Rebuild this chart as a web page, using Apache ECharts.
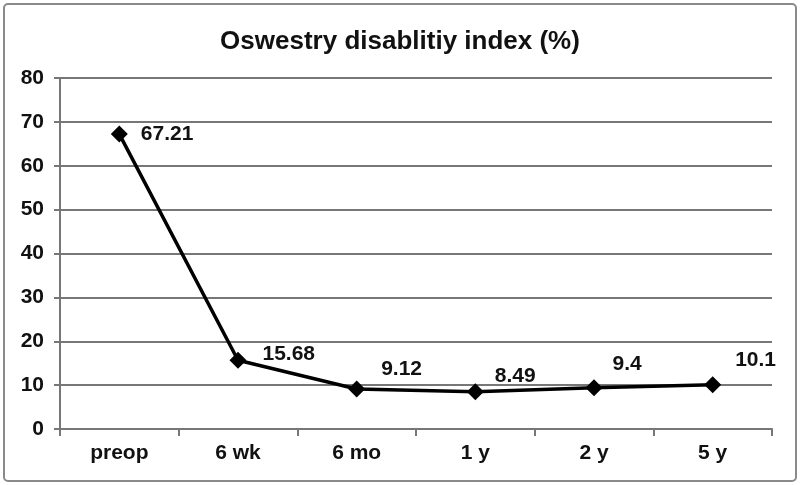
<!DOCTYPE html>
<html><head><meta charset="utf-8">
<script src="https://cdn.jsdelivr.net/npm/echarts@6/dist/echarts.min.js"></script>
<style>html,body{margin:0;padding:0;background:#fff}#c{width:800px;height:485px}</style>
</head><body><div id="c"></div>
<script>
const categories = ['preop','6 wk','6 mo','1 y','2 y','5 y'];
const odiValues = [67.21, 15.68, 9.12, 8.49, 9.4, 10.1];
const yTicks = [0,10,20,30,40,50,60,70,80];
const labelOffsets = [[7,0],[10,-6],[10,-20],[5,-16],[4,-24],[8,-24]];

const chart = echarts.init(document.getElementById('c'), null, {renderer:'canvas'});
const font = 'Liberation Sans, Arial, sans-serif';
chart.setOption({
  animation:false,
  backgroundColor:'#fff',
  graphic:[{type:'rect', shape:{x:4,y:4,width:792,height:477,r:4}, style:{fill:'none',stroke:'#8a8a8a',lineWidth:2}, silent:true}],
  title:{text:'Oswestry disablitiy index (%)', left:'center', top:24,
    textStyle:{fontFamily:font, fontWeight:'bold', fontSize:26, color:'#111'}},
  grid:{left:60, right:28, top:78, bottom:56},
  xAxis:{type:'category', data:categories, boundaryGap:true,
    axisLine:{lineStyle:{color:'#777', width:2}},
    axisTick:{show:true, length:7, lineStyle:{color:'#777', width:2}},
    axisLabel:{fontFamily:font, fontWeight:'bold', fontSize:21, color:'#111', margin:14}},
  yAxis:{type:'value', min:yTicks[0], max:yTicks[yTicks.length-1], interval:10,
    axisLine:{show:true, lineStyle:{color:'#777', width:2}},
    axisTick:{show:true, length:6, lineStyle:{color:'#777', width:2}},
    splitLine:{lineStyle:{color:'#777', width:2}},
    axisLabel:{fontFamily:font, fontWeight:'bold', fontSize:21, color:'#111', margin:16}},
  series:[{type:'line', data:odiValues.map((v,i)=>({value:v, label:{offset:labelOffsets[i]}})),
    symbol:'diamond', symbolSize:17, lineStyle:{color:'#000', width:3.5},
    itemStyle:{color:'#000'},
    label:{show:true, position:'right', distance:6, fontFamily:font, fontWeight:'bold', fontSize:21, color:'#111'}}]
});
</script></body></html>
